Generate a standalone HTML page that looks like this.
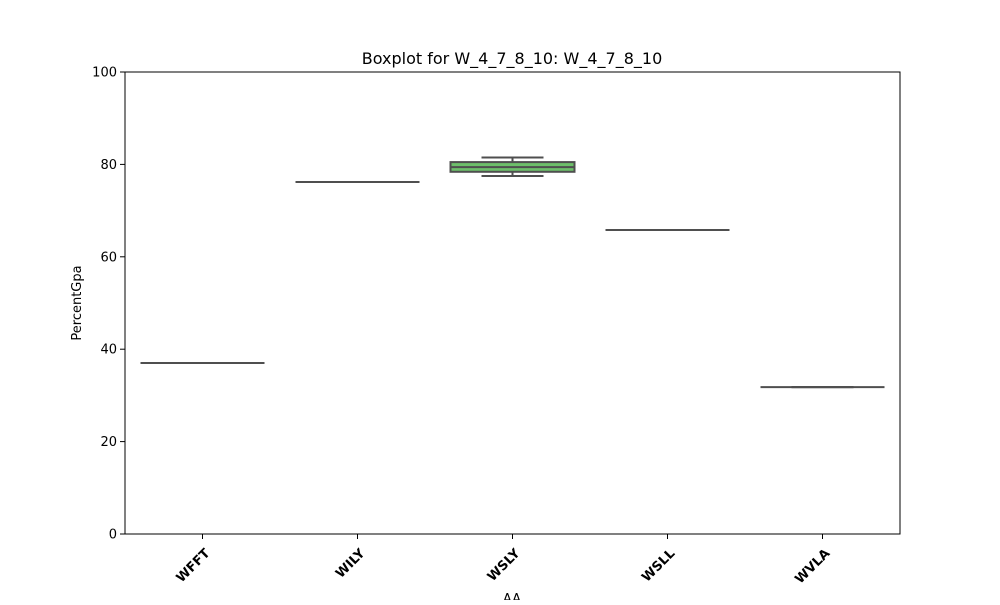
<!DOCTYPE html>
<html><head><meta charset="utf-8"><style>body{margin:0;background:#fff}svg text{font-family:"DejaVu Sans","Liberation Sans",sans-serif}</style></head>
<body>
<svg id="chart" width="1000" height="600" xmlns="http://www.w3.org/2000/svg">
<rect width="1000" height="600" fill="#fff"/>
<text x="512" y="64" font-size="16" text-anchor="middle">Boxplot for W_4_7_8_10: W_4_7_8_10</text>
<g id="plot"></g>
<rect x="125" y="72" width="775" height="462" fill="none" stroke="#000" stroke-width="1"/>
<text x="81" y="303" font-size="13" text-anchor="middle" transform="rotate(-90 81 303)">PercentGpa</text>
<text x="512" y="603" font-size="13" text-anchor="middle">AA</text>
</svg>
<script>
const categories=["WFFT","WILY","WSLY","WSLL","WVLA"];
const q1s=[37.0,76.2,78.4,65.8,31.8];
const medians=[37.0,76.2,79.4,65.8,31.8];
const q3s=[37.0,76.2,80.5,65.8,31.8];
const whiskLo=[37.0,76.2,77.5,65.8,31.8];
const whiskHi=[37.0,76.2,81.5,65.8,31.8];
const colors=["#66c2a5","#fc8d62","#6dbf6a","#e78ac3","#a6d854"];
const yTicks=[0,20,40,60,80,100];
const NS="http://www.w3.org/2000/svg";
const L=125,R=900,T=72,B=534;
const y=v=>B-(v/100)*(B-T);
const bw=(R-L)/categories.length;
const xc=i=>L+bw*(i+0.5);
const g=document.getElementById('plot');
function mk(tag,a){const e=document.createElementNS(NS,tag);for(const k in a)e.setAttribute(k,a[k]);g.appendChild(e);return e;}
yTicks.forEach(t=>{
 const l=mk('line',{x1:L-5,x2:L,y1:y(t),y2:y(t),stroke:'#000'});
 
 
 const tx=mk('text',{x:L-8,y:y(t)+4.5,'font-size':13,'text-anchor':'end'});tx.textContent=t;
 
 
});
categories.forEach((c,i)=>{
 const cx=xc(i),hw=bw*0.4,st='#4f4f4f';
 const tk=mk('line',{x1:cx,x2:cx,y1:B,y2:B+5,stroke:'#000'});
 
 
 const tx=mk('text',{x:cx+8,y:B+20,'font-size':13,'font-weight':'bold','text-anchor':'end',transform:`rotate(-45 ${cx+8} ${B+20})`});tx.textContent=c;
 
 
 const w1=mk('line',{x1:cx,x2:cx,y1:y(whiskHi[i]),y2:y(q3s[i]),stroke:st,'stroke-width':2});
 
 
 const w2=mk('line',{x1:cx,x2:cx,y1:y(q1s[i]),y2:y(whiskLo[i]),stroke:st,'stroke-width':2});
 
 
 const c1=mk('line',{x1:cx-hw/2,x2:cx+hw/2,y1:y(whiskHi[i]),y2:y(whiskHi[i]),stroke:st,'stroke-width':2});
 
 
 const c2=mk('line',{x1:cx-hw/2,x2:cx+hw/2,y1:y(whiskLo[i]),y2:y(whiskLo[i]),stroke:st,'stroke-width':2});
 
 
 const bx=mk('rect',{x:cx-hw,y:y(q3s[i]),width:2*hw,height:Math.max(0,y(q1s[i])-y(q3s[i])),fill:colors[i],stroke:st,'stroke-width':2});
 
 
 const md=mk('line',{x1:cx-hw,x2:cx+hw,y1:y(medians[i]),y2:y(medians[i]),stroke:st,'stroke-width':2});
 
 
});
</script>
</body></html>
